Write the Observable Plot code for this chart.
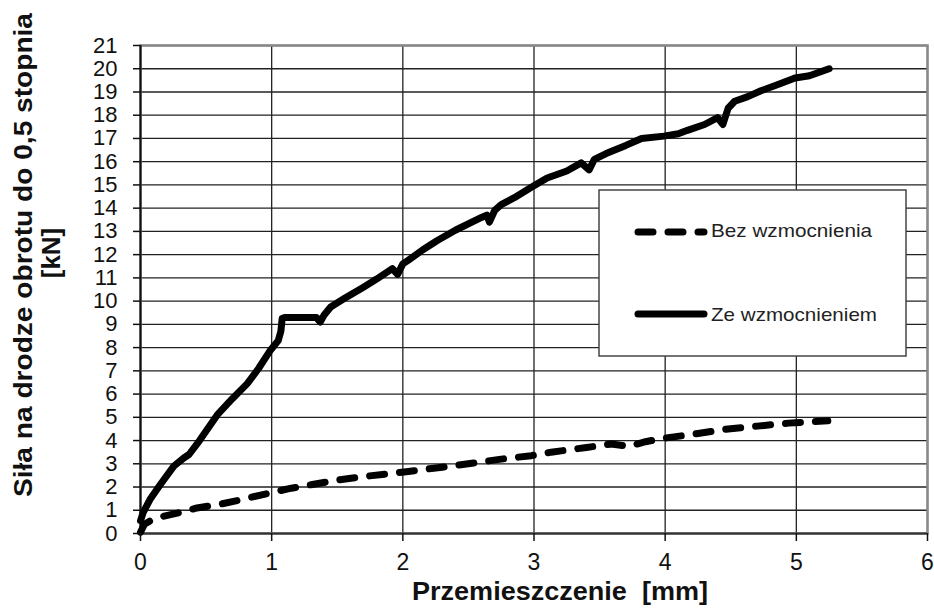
<!DOCTYPE html>
<html>
<head>
<meta charset="utf-8">
<script src="https://cdn.jsdelivr.net/npm/d3@7"></script>
<script src="https://cdn.jsdelivr.net/npm/@observablehq/plot@0.6"></script>
<style>
  html, body { margin: 0; padding: 0; background: #fff; }
  #chart { position: relative; width: 934px; height: 611px; }
</style>
</head>
<body>
<div id="chart"></div>
<script>
// ---- data ----
const seriesNames = ["Bez wzmocnienia", "Ze wzmocnieniem"];

const solidX = [0, 0.02, 0.076, 0.15, 0.254, 0.33, 0.37, 0.45, 0.585, 0.7, 0.814, 0.9, 0.992, 1.05, 1.07, 1.08, 1.1, 1.34, 1.37, 1.4, 1.45, 1.55, 1.7, 1.8, 1.92, 1.96, 2.0, 2.04, 2.15, 2.26, 2.4, 2.6, 2.64, 2.66, 2.7, 2.75, 2.85, 2.98, 3.1, 3.25, 3.36, 3.42, 3.46, 3.55, 3.7, 3.82, 3.99, 4.1, 4.17, 4.3, 4.4, 4.44, 4.48, 4.53, 4.63, 4.73, 4.85, 4.99, 5.1, 5.25];
const solidY = [0.55, 0.9, 1.5, 2.1, 2.9, 3.25, 3.4, 4.0, 5.1, 5.8, 6.45, 7.1, 7.9, 8.3, 8.7, 9.25, 9.3, 9.3, 9.1, 9.4, 9.75, 10.1, 10.6, 10.95, 11.4, 11.15, 11.6, 11.75, 12.2, 12.6, 13.05, 13.6, 13.7, 13.4, 13.9, 14.15, 14.45, 14.9, 15.3, 15.6, 15.95, 15.65, 16.1, 16.35, 16.7, 17.0, 17.1, 17.2, 17.35, 17.6, 17.9, 17.6, 18.3, 18.6, 18.8, 19.05, 19.3, 19.6, 19.7, 20.0];

const dashX = [0, 0.03, 0.076, 0.18, 0.3, 0.43, 0.6, 0.74, 0.99, 1.15, 1.3, 1.5, 1.7, 2.01, 2.37, 2.75, 2.98, 3.13, 3.4, 3.59, 3.72, 3.85, 3.99, 4.25, 4.48, 4.7, 4.94, 5.24];
const dashY = [0.05, 0.4, 0.55, 0.75, 0.9, 1.1, 1.25, 1.42, 1.75, 1.95, 2.1, 2.3, 2.45, 2.65, 2.9, 3.2, 3.35, 3.5, 3.7, 3.85, 3.75, 3.95, 4.1, 4.3, 4.5, 4.62, 4.75, 4.85];

const xTicks = [0, 1, 2, 3, 4, 5, 6];
const yTicks = [0, 1, 2, 3, 4, 5, 6, 7, 8, 9, 10, 11, 12, 13, 14, 15, 16, 17, 18, 19, 20, 21];

const xTitle = "Przemieszczenie  [mm]";
const yTitle1 = "Siła na drodze obrotu do 0,5 stopnia";
const yTitle2 = "[kN]";

// ---- build tables ----
const solid = solidX.map((x, i) => ({x, y: solidY[i]}));
const dashed = dashX.map((x, i) => ({x, y: dashY[i]}));

const font = "'Liberation Sans', Arial, sans-serif";

const svg = Plot.plot({
  width: 934,
  height: 611,
  marginLeft: 140,
  marginRight: 7,
  marginTop: 45,
  marginBottom: 78,
  x: {domain: [0, 6]},
  y: {domain: [0, 21]},
  style: {fontFamily: font, fontSize: "23px", color: "#111", background: "#fff", overflow: "visible"},
  marks: [
    Plot.gridY(yTicks, {stroke: "#222", strokeOpacity: 1, strokeWidth: 1.3}),
    Plot.gridX(xTicks, {stroke: "#222", strokeOpacity: 1, strokeWidth: 1.3}),
    Plot.frame({stroke: "#8a8a8a", strokeWidth: 2.5}),
    Plot.ruleX([0], {stroke: "#111", strokeWidth: 2}),
    Plot.ruleY([0], {stroke: "#333", strokeWidth: 2}),
    Plot.line(dashed, {x: "x", y: "y", stroke: "#000", strokeWidth: 7, strokeDasharray: "15,15", strokeLinecap: "round", strokeLinejoin: "round"}),
    Plot.line(solid, {x: "x", y: "y", stroke: "#000", strokeWidth: 7, strokeLinecap: "round", strokeLinejoin: "round"}),
    Plot.axisY(yTicks, {tickSize: 7, tickPadding: 16, label: null, fontSize: 22, strokeWidth: 1.5, stroke: "#111", tickFormat: d => String(d)}),
    Plot.axisX(xTicks, {tickSize: 8, tickPadding: 12, label: null, fontSize: 23, strokeWidth: 1.5, stroke: "#111", tickFormat: d => String(d)})
  ]
});

document.getElementById("chart").appendChild(svg);

const s = d3.select(svg);

// axis titles
s.append("text")
  .attr("x", 560).attr("y", 600)
  .attr("text-anchor", "middle")
  .attr("font-family", font).attr("font-weight", "bold").attr("font-size", 26)
  .attr("fill", "#111")
  .attr("textLength", 296).attr("lengthAdjust", "spacingAndGlyphs")
  .text(xTitle);

s.append("text")
  .attr("transform", "translate(32,255) rotate(-90)")
  .attr("text-anchor", "middle")
  .attr("font-family", font).attr("font-weight", "bold").attr("font-size", 26)
  .attr("fill", "#111")
  .attr("textLength", 484).attr("lengthAdjust", "spacingAndGlyphs")
  .text(yTitle1);

s.append("text")
  .attr("transform", "translate(60,253) rotate(-90)")
  .attr("text-anchor", "middle")
  .attr("font-family", font).attr("font-weight", "bold").attr("font-size", 26)
  .attr("fill", "#111")
  .text(yTitle2);

// legend
const lg = s.append("g");
lg.append("rect")
  .attr("x", 599).attr("y", 190).attr("width", 307).attr("height", 166)
  .attr("fill", "#fff").attr("stroke", "#444").attr("stroke-width", 1.5);
lg.append("line")
  .attr("x1", 638).attr("x2", 704).attr("y1", 232).attr("y2", 232)
  .attr("stroke", "#000").attr("stroke-width", 7)
  .attr("stroke-linecap", "round").attr("stroke-dasharray", "15,15");
lg.append("line")
  .attr("x1", 638).attr("x2", 704).attr("y1", 314).attr("y2", 314)
  .attr("stroke", "#000").attr("stroke-width", 7)
  .attr("stroke-linecap", "round");
lg.append("text")
  .attr("x", 711).attr("y", 237)
  .attr("text-anchor", "start")
  .attr("font-family", font).attr("font-size", 19).attr("fill", "#222")
  .attr("textLength", 161).attr("lengthAdjust", "spacingAndGlyphs")
  .text(seriesNames[0]);
lg.append("text")
  .attr("x", 711).attr("y", 321)
  .attr("text-anchor", "start")
  .attr("font-family", font).attr("font-size", 19).attr("fill", "#222")
  .attr("textLength", 166).attr("lengthAdjust", "spacingAndGlyphs")
  .text(seriesNames[1]);
</script>
</body>
</html>
